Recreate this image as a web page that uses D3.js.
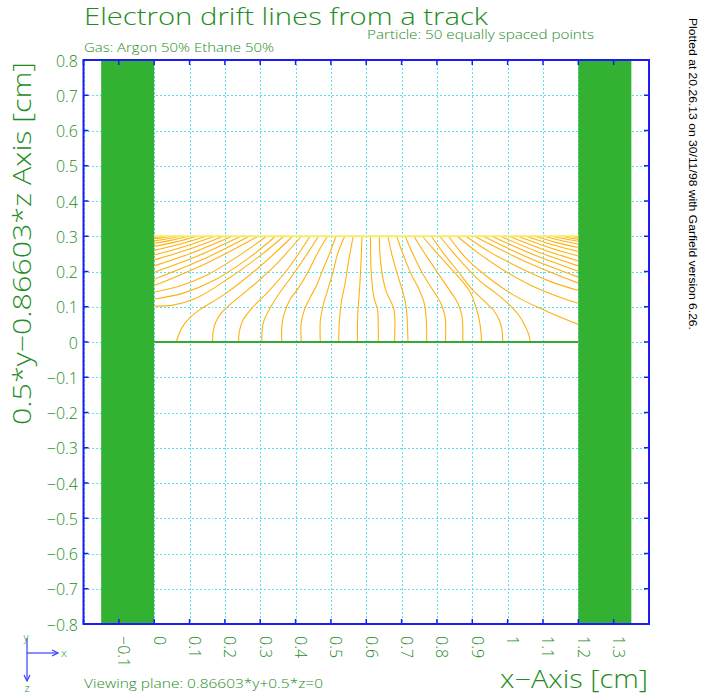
<!DOCTYPE html>
<html>
<head>
<meta charset="utf-8">
<script src="https://cdn.jsdelivr.net/npm/d3@7"></script>
<style>
body { margin: 0; background: #fff; }
svg { display: block; }
</style>
</head>
<body>
<script>
// texts on the plot
var titleText = "Electron drift lines from a track";
var particleText = "Particle: 50 equally spaced points";
var gasText = "Gas: Argon 50% Ethane 50%";
var planeText = "Viewing plane: 0.86603*y+0.5*z=0";
var xLabelText = "x\u2212Axis [cm]";
var yLabelText = "0.5*y\u22120.86603*z Axis [cm]";
var stampText = "Plotted at 20.26.13 on 30/11/98 with Garfield version 6.26.";

// axis ticks and labels
var xTicks = [-0.1, 0, 0.1, 0.2, 0.3, 0.4, 0.5, 0.6, 0.7, 0.8, 0.9, 1, 1.1, 1.2, 1.3];
var xTickLabels = ["\u22120.1", "0", "0.1", "0.2", "0.3", "0.4", "0.5", "0.6", "0.7", "0.8", "0.9", "1", "1.1", "1.2", "1.3"];
var yTicks = [0.8, 0.7, 0.6, 0.5, 0.4, 0.3, 0.2, 0.1, 0, -0.1, -0.2, -0.3, -0.4, -0.5, -0.6, -0.7, -0.8];
var yTickLabels = ["0.8", "0.7", "0.6", "0.5", "0.4", "0.3", "0.2", "0.1", "0", "\u22120.1", "\u22120.2", "\u22120.3",
	"\u22120.4", "\u22120.5", "\u22120.6", "\u22120.7", "\u22120.8"];

// solid walls (x ranges in cm), track at y = 0.3 and the plane at y = 0
var walls = [[-0.15, 0], [1.2, 1.35]];
var trackX = [0, 1.2], trackY = 0.3;
var planeX = [0, 1.2], planeY = 0;

// drift lines ending on the left wall
var leftWallLines = [
	[[0.000, 0.300], [0.000, 0.299]],
	[[0.024, 0.300], [0.012, 0.298], [0, 0.297]],
	[[0.049, 0.300], [0.025, 0.296], [0, 0.293]],
	[[0.073, 0.300], [0.037, 0.293], [0, 0.287]],
	[[0.098, 0.300], [0.049, 0.289], [0, 0.280]],
	[[0.122, 0.300], [0.061, 0.284], [0, 0.271]],
	[[0.147, 0.300], [0.074, 0.278], [0, 0.260]],
	[[0.171, 0.300], [0.086, 0.271], [0, 0.247]],
	[[0.196, 0.300], [0.098, 0.263], [0, 0.233]],
	[[0.220, 0.300], [0.110, 0.254], [0, 0.216]],
	[[0.245, 0.300], [0.123, 0.244], [0, 0.198]],
	[[0.269, 0.300], [0.135, 0.233], [0, 0.178]],
	[[0.294, 0.300], [0.147, 0.223], [0, 0.160]],
	[[0.318, 0.300], [0.240, 0.245], [0.150, 0.190], [0.070, 0.158], [0, 0.142]],
	[[0.343, 0.300], [0.270, 0.240], [0.170, 0.175], [0.080, 0.138], [0, 0.122]],
	[[0.367, 0.300], [0.300, 0.245], [0.210, 0.180], [0.120, 0.125], [0.050, 0.104], [0, 0.102]]
];

// drift lines ending on the plane at y = 0
var bottomLines = [
	[[0.392, 0.300], [0.300, 0.215], [0.203, 0.138], [0.128, 0.091], [0.099, 0.067], [0.080, 0.043], [0.071, 0.025], [0.063, 0.000]],
	[[0.416, 0.300], [0.340, 0.215], [0.270, 0.152], [0.213, 0.105], [0.189, 0.081], [0.175, 0.058], [0.167, 0.030], [0.165, 0.000]],
	[[0.441, 0.300], [0.380, 0.210], [0.320, 0.140], [0.280, 0.100], [0.251, 0.062], [0.241, 0.030], [0.239, 0.000]],
	[[0.465, 0.300], [0.434, 0.252], [0.399, 0.200], [0.342, 0.120], [0.311, 0.062], [0.305, 0.030], [0.305, 0.000]],
	[[0.490, 0.300], [0.462, 0.252], [0.436, 0.200], [0.406, 0.150], [0.384, 0.120], [0.368, 0.081], [0.361, 0.043], [0.361, 0.000]],
	[[0.514, 0.300], [0.496, 0.250], [0.475, 0.200], [0.462, 0.166], [0.443, 0.129], [0.425, 0.091], [0.416, 0.053], [0.416, 0.000]],
	[[0.539, 0.300], [0.519, 0.250], [0.505, 0.195], [0.491, 0.148], [0.477, 0.100], [0.470, 0.060], [0.470, 0.000]],
	[[0.563, 0.300], [0.549, 0.223], [0.540, 0.166], [0.529, 0.110], [0.524, 0.060], [0.522, 0.000]],
	[[0.588, 0.300], [0.585, 0.223], [0.581, 0.148], [0.576, 0.080], [0.575, 0.000]],
	[[0.612, 0.300], [0.614, 0.200], [0.621, 0.130], [0.632, 0.090], [0.634, 0.050], [0.634, 0.000]],
	[[0.637, 0.300], [0.641, 0.223], [0.655, 0.148], [0.670, 0.114], [0.679, 0.090], [0.680, 0.000]],
	[[0.661, 0.300], [0.674, 0.242], [0.693, 0.176], [0.707, 0.129], [0.714, 0.090], [0.718, 0.000]],
	[[0.686, 0.300], [0.703, 0.252], [0.726, 0.195], [0.750, 0.148], [0.764, 0.110], [0.770, 0.060], [0.771, 0.000]],
	[[0.710, 0.300], [0.731, 0.252], [0.759, 0.195], [0.788, 0.148], [0.811, 0.110], [0.823, 0.072], [0.824, 0.000]],
	[[0.735, 0.300], [0.759, 0.261], [0.797, 0.204], [0.835, 0.148], [0.859, 0.110], [0.871, 0.072], [0.873, 0.000]],
	[[0.759, 0.300], [0.788, 0.266], [0.826, 0.223], [0.864, 0.181], [0.895, 0.140], [0.913, 0.090], [0.923, 0.043], [0.926, 0.000]],
	[[0.784, 0.300], [0.820, 0.250], [0.860, 0.200], [0.899, 0.150], [0.935, 0.115], [0.960, 0.090], [0.975, 0.065], [0.984, 0.035], [0.986, 0.000]],
	[[0.808, 0.300], [0.845, 0.255], [0.885, 0.210], [0.925, 0.170], [0.965, 0.140], [1.000, 0.110], [1.030, 0.078], [1.050, 0.045], [1.060, 0.020], [1.064, 0.000]]
];

// drift lines ending on the right wall
var rightWallLines = [
	[[0.833, 0.300], [0.880, 0.240], [0.930, 0.195], [1.017, 0.133], [1.102, 0.091], [1.200, 0.050]],
	[[0.857, 0.300], [0.920, 0.250], [0.990, 0.203], [1.064, 0.162], [1.140, 0.130], [1.200, 0.110]],
	[[0.882, 0.300], [0.950, 0.255], [1.030, 0.213], [1.120, 0.172], [1.200, 0.146]],
	[[0.906, 0.300], [1.053, 0.227], [1.200, 0.167]],
	[[0.931, 0.300], [1.066, 0.236], [1.200, 0.184]],
	[[0.955, 0.300], [1.078, 0.246], [1.200, 0.201]],
	[[0.980, 0.300], [1.090, 0.254], [1.200, 0.216]],
	[[1.004, 0.300], [1.102, 0.262], [1.200, 0.230]],
	[[1.029, 0.300], [1.115, 0.269], [1.200, 0.244]],
	[[1.053, 0.300], [1.127, 0.276], [1.200, 0.257]],
	[[1.078, 0.300], [1.139, 0.282], [1.200, 0.268]],
	[[1.102, 0.300], [1.151, 0.288], [1.200, 0.278]],
	[[1.127, 0.300], [1.164, 0.292], [1.200, 0.286]],
	[[1.151, 0.300], [1.176, 0.295], [1.200, 0.291]],
	[[1.176, 0.300], [1.188, 0.298], [1.200, 0.296]],
	[[1.200, 0.300], [1.200, 0.299]]
];

var FONT = "'Open Sans', 'DejaVu Sans', sans-serif";
var GREEN_TEXT = "#1e8c1e";

// frame of the plot area
var frame = {left: 83.5, right: 649, top: 60, bottom: 624};

var svg = d3.select("body").append("svg")
	.attr("width", 702)
	.attr("height", 696);

var x = d3.scaleLinear().domain([-0.2, 1.4]).range([frame.left, frame.right]);
var y = d3.scaleLinear().domain([-0.8, 0.8]).range([frame.bottom, frame.top]);

// dotted grid every 0.1 cm
var grid = svg.append("g")
	.attr("stroke", "#55e3ef")
	.attr("stroke-width", 1)
	.attr("stroke-dasharray", "2,2")
	.attr("shape-rendering", "crispEdges");
grid.selectAll(".gx").data(x.ticks(16)).enter().append("line")
	.attr("x1", function(d) { return Math.round(x(d)) + 0.5; })
	.attr("x2", function(d) { return Math.round(x(d)) + 0.5; })
	.attr("y1", frame.top)
	.attr("y2", frame.bottom);
grid.selectAll(".gy").data(y.ticks(16)).enter().append("line")
	.attr("y1", function(d) { return Math.round(y(d)) + 0.5; })
	.attr("y2", function(d) { return Math.round(y(d)) + 0.5; })
	.attr("x1", frame.left)
	.attr("x2", frame.right);

// the two walls
svg.selectAll(".wall").data(walls).enter().append("rect")
	.attr("x", function(d) { return x(d[0]); })
	.attr("width", function(d) { return x(d[1]) - x(d[0]); })
	.attr("y", y(0.8))
	.attr("height", y(-0.8) - y(0.8))
	.attr("fill", "#32b132");

// drift lines
var driftLine = d3.line()
	.x(function(d) { return x(d[0]); })
	.y(function(d) { return y(d[1]); })
	.curve(d3.curveCatmullRom.alpha(0.5));

var allLines = leftWallLines.concat(bottomLines, rightWallLines);
svg.append("g").selectAll("path").data(allLines).enter().append("path")
	.attr("d", driftLine)
	.attr("fill", "none")
	.attr("stroke", "#ffb20f")
	.attr("stroke-width", 1.1);

// plane at y = 0
svg.append("line")
	.attr("x1", x(planeX[0])).attr("x2", x(planeX[1]))
	.attr("y1", y(planeY)).attr("y2", y(planeY))
	.attr("stroke", "#33aa33")
	.attr("stroke-width", 2);

// particle track
svg.append("line")
	.attr("x1", x(trackX[0])).attr("x2", x(trackX[1]))
	.attr("y1", y(trackY)).attr("y2", y(trackY))
	.attr("stroke", "#f4ee6c")
	.attr("stroke-width", 2.2);

// frame
svg.append("rect")
	.attr("x", frame.left).attr("y", frame.top)
	.attr("width", frame.right - frame.left)
	.attr("height", frame.bottom - frame.top)
	.attr("fill", "none")
	.attr("stroke", "#1c1cf5")
	.attr("stroke-width", 2);

// inward tick marks on all four sides
var tickLen = 5;
var ticks = svg.append("g").attr("stroke", "#1c1cf5").attr("stroke-width", 1.5);
x.ticks(16).forEach(function(v) {
	ticks.append("line").attr("x1", x(v)).attr("x2", x(v)).attr("y1", frame.bottom).attr("y2", frame.bottom - tickLen);
	ticks.append("line").attr("x1", x(v)).attr("x2", x(v)).attr("y1", frame.top).attr("y2", frame.top + tickLen);
});
y.ticks(16).forEach(function(v) {
	ticks.append("line").attr("y1", y(v)).attr("y2", y(v)).attr("x1", frame.left).attr("x2", frame.left + tickLen);
	ticks.append("line").attr("y1", y(v)).attr("y2", y(v)).attr("x1", frame.right).attr("x2", frame.right - tickLen);
});

// tick labels
svg.append("g").selectAll("text").data(yTicks).enter().append("text")
	.attr("x", 78)
	.attr("y", function(d) { return y(d) + 1; })
	.attr("dy", "0.35em")
	.attr("text-anchor", "end")
	.attr("font-family", FONT)
	.attr("font-weight", 300)
	.attr("font-size", 16)
	.attr("fill", GREEN_TEXT)
	.text(function(d, i) { return yTickLabels[i]; });

svg.append("g").selectAll("text").data(xTicks).enter().append("text")
	.attr("transform", function(d) { return "translate(" + (x(d) + 5) + ",636) rotate(90)"; })
	.attr("dy", "0.35em")
	.attr("text-anchor", "start")
	.attr("font-family", FONT)
	.attr("font-weight", 300)
	.attr("font-size", 16)
	.attr("fill", GREEN_TEXT)
	.text(function(d, i) { return xTickLabels[i]; });

// titles and notes
function addText(str, px, py, size, len, anchor) {
	return svg.append("text")
		.attr("x", px).attr("y", py)
		.attr("font-family", FONT)
		.attr("font-weight", 300)
		.attr("font-size", size)
		.attr("fill", GREEN_TEXT)
		.attr("text-anchor", anchor || "start")
		.attr("textLength", len)
		.attr("lengthAdjust", "spacingAndGlyphs")
		.text(str);
}
addText(titleText, 84, 25, 24, 404);
addText(particleText, 367, 39, 13, 227);
addText(gasText, 84, 52, 13, 190);
addText(planeText, 84, 688, 13, 239);
addText(xLabelText, 648, 688, 25, 148, "end");

// y axis title, reading upwards
svg.append("text")
	.attr("transform", "translate(31,243.5) rotate(-90)")
	.attr("text-anchor", "middle")
	.attr("font-family", FONT)
	.attr("font-weight", 300)
	.attr("font-size", 25)
	.attr("fill", GREEN_TEXT)
	.attr("textLength", 363)
	.attr("lengthAdjust", "spacingAndGlyphs")
	.text(yLabelText);

// time stamp on the right
svg.append("text")
	.attr("transform", "translate(689,18) rotate(90)")
	.attr("font-family", "'Liberation Sans', Arial, sans-serif")
	.attr("font-size", 11)
	.attr("fill", "#000")
	.attr("textLength", 312)
	.attr("lengthAdjust", "spacingAndGlyphs")
	.text(stampText);

// small axes symbol at the bottom left
var icon = svg.append("g").attr("stroke", "#3340ff").attr("stroke-width", 1.2).attr("fill", "none");
icon.append("line").attr("x1", 27).attr("y1", 638).attr("x2", 27).attr("y2", 681);
icon.append("line").attr("x1", 27).attr("y1", 653).attr("x2", 58).attr("y2", 653);
icon.append("path").attr("d", "M52,650 L58,653 L52,656");
icon.append("path").attr("d", "M24,675 L27,681 L30,675");
var iconText = [["y", 26, 641], ["x", 64, 657], ["z", 27, 692]];
iconText.forEach(function(t) {
	svg.append("text")
		.attr("x", t[1]).attr("y", t[2])
		.attr("text-anchor", "middle")
		.attr("font-family", FONT)
		.attr("font-weight", 300)
		.attr("font-size", 11)
		.attr("fill", GREEN_TEXT)
		.text(t[0]);
});
</script>
</body>
</html>
